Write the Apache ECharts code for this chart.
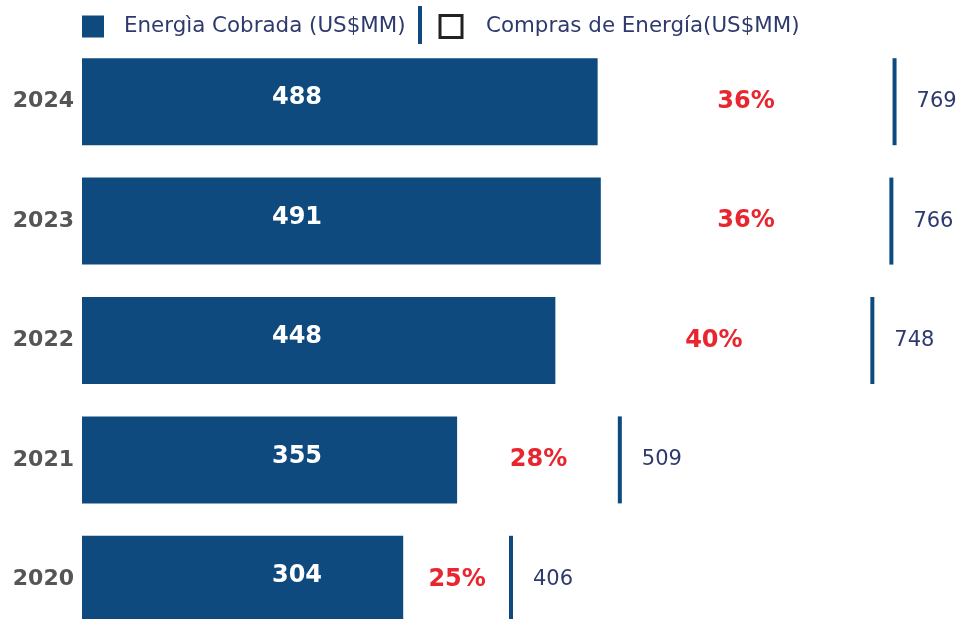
<!DOCTYPE html>
<html>
<head>
<meta charset="utf-8">
<script src="https://cdn.jsdelivr.net/npm/echarts@6/dist/echarts.min.js"></script>
<style>
  html, body { margin: 0; padding: 0; background: #fff; }
  #main { width: 963px; height: 619px; }
</style>
</head>
<body>
<div id="main"></div>
<script>
// datos
var years = ['2024', '2023', '2022', '2021', '2020'];
var cobrada = [488, 491, 448, 355, 304];   // Energìa Cobrada (US$MM)
var compras = [769, 766, 748, 509, 406];   // Compras de Energía (US$MM)
var pct = [36, 36, 40, 28, 25];

var azul = '#0e4a7e';
var rojo = '#e8262f';
var texto = '#2e3a6e';
var fuente = '"DejaVu Sans", sans-serif';

var chart = echarts.init(document.getElementById('main'));

// posicion del porcentaje: entre el fin de la barra y la linea de compras
var pctData = years.map(function (y, i) {
    return { value: [(cobrada[i] + compras[i]) / 2, y], pct: pct[i] };
});

var option = {
    backgroundColor: '#fff',
    animation: false,
    legend: {
        left: 82,
        top: 14,
        padding: 0,
        itemWidth: 22,
        itemHeight: 22,
        itemGap: 33,
        textStyle: { color: texto, fontSize: 21.4, fontFamily: fuente },
        data: [
            { name: 'Energìa Cobrada (US$MM)', icon: 'rect', itemStyle: { color: azul },
              textStyle: { padding: [0, 0, 0, 15] } },
            { name: 'Compras de Energía(US$MM)', icon: 'rect',
              itemStyle: { color: '#fff', borderColor: '#222', borderWidth: 3 },
              textStyle: { padding: [0, 0, 0, 19] } }
        ]
    },
    graphic: [{
        type: 'rect',
        shape: { x: 418, y: 6, width: 4, height: 38 },
        style: { fill: azul }
    }],
    grid: { left: 82, top: 42, width: 877, height: 597, outerBoundsMode: 'none', containLabel: false },
    xAxis: {
        type: 'value',
        min: 0,
        max: 830,
        show: false
    },
    yAxis: {
        type: 'category',
        data: years,
        inverse: true,
        axisLine: { show: false },
        axisTick: { show: false },
        axisLabel: {
            color: '#555',
            fontSize: 22,
            fontWeight: 'bold',
            fontFamily: fuente,
            margin: 8
        }
    },
    series: [
        {
            name: 'Energìa Cobrada (US$MM)',
            type: 'bar',
            data: cobrada,
            barWidth: 87,
            itemStyle: { color: azul },
            label: {
                show: true,
                position: [215, 40],
                align: 'center',
                verticalAlign: 'middle',
                color: '#fff',
                fontSize: 24,
                fontWeight: 'bold',
                fontFamily: fuente
            },
            z: 2
        },
        {
            name: 'Compras de Energía(US$MM)',
            type: 'scatter',
            data: compras,
            symbol: 'rect',
            symbolSize: [4, 87],
            itemStyle: { color: azul, opacity: 1 },
            label: {
                show: true,
                position: 'right',
                distance: 20,
                color: texto,
                fontSize: 21,
                fontFamily: fuente
            },
            z: 3
        },
        {
            name: 'pct',
            type: 'scatter',
            data: pctData,
            symbolSize: 0,
            silent: true,
            itemStyle: { opacity: 1 },
            label: {
                show: true,
                position: 'inside',
                color: rojo,
                fontSize: 24,
                fontWeight: 'bold',
                fontFamily: fuente,
                formatter: function (p) { return p.data.pct + '%'; }
            },
            z: 4
        }
    ]
};
chart.setOption(option);
</script>
</body>
</html>
